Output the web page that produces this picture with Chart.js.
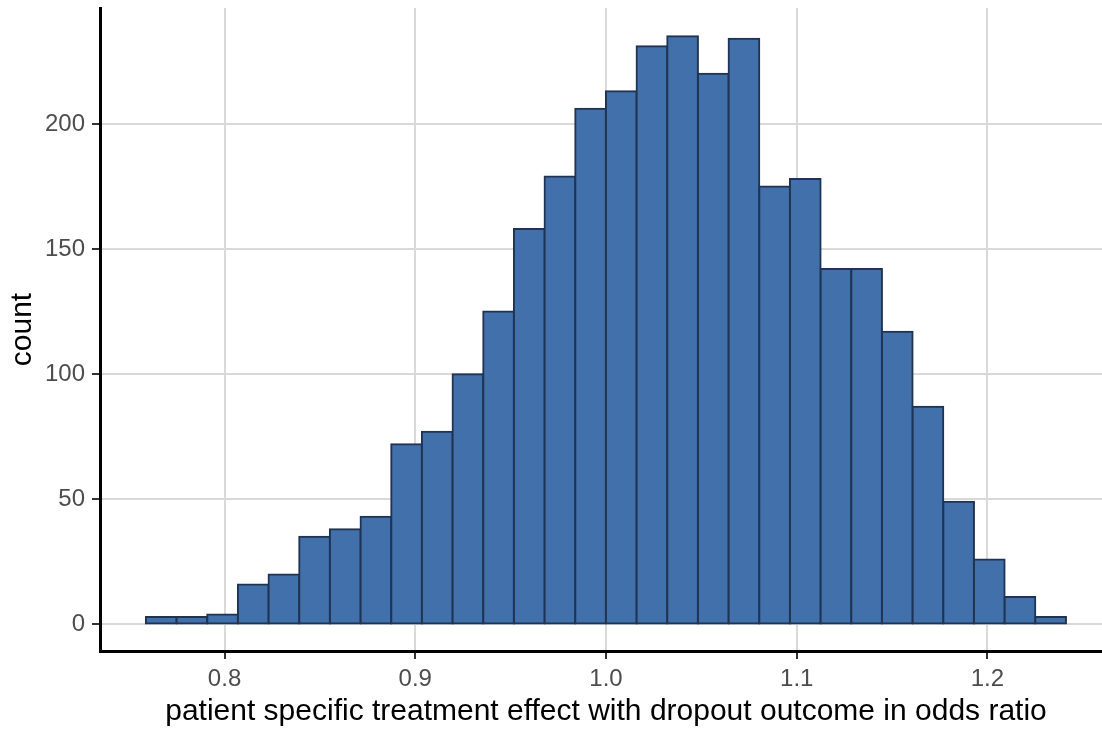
<!DOCTYPE html>
<html>
<head>
<meta charset="utf-8">
<title>Histogram</title>
<script src="https://cdn.jsdelivr.net/npm/chart.js@4/dist/chart.umd.min.js"></script>
<style>
  body { margin: 0; background: #ffffff; overflow: hidden; }
  #wrap { width: 1102px; height: 735px; overflow: hidden; }
</style>
</head>
<body>
<div id="wrap"><canvas id="hist" width="1112" height="735"></canvas></div>
<script>
// bin centres (odds ratio) and counts
const binCenters = [
  0.7668, 0.78288, 0.79896, 0.81504, 0.83112, 0.8472, 0.86328, 0.87936,
  0.89544, 0.91152, 0.9276, 0.94368, 0.95976, 0.97584, 0.99192, 1.008,
  1.02408, 1.04016, 1.05624, 1.07232, 1.0884, 1.10448, 1.12056, 1.13664,
  1.15272, 1.1688, 1.18488, 1.20096, 1.21704, 1.23312,
];
const counts = [
  3, 3, 4, 16, 20, 35, 38, 43, 72, 77, 100, 125, 158, 179, 206, 213,
  231, 235, 220, 234, 175, 178, 142, 142, 117, 87, 49, 26, 11, 3,
];
const xTicks = [0.8, 0.9, 1.0, 1.1, 1.2];
const yTicks = [0, 50, 100, 150, 200];

const xTitle = "patient specific treatment effect with dropout outcome in odds ratio";
const yTitle = "count";

const FONT = "'Liberation Sans', Arial, sans-serif";

function createHistogram() {
  const ctx = document.getElementById("hist");
  if (!window.Chart || !ctx) return;

  const points = binCenters.map((x, i) => ({ x: x, y: counts[i] }));

  new Chart(ctx, {
    type: "bar",
    data: {
      datasets: [
        {
          label: yTitle,
          data: points,
          backgroundColor: "#4270ab",
          borderColor: "#1f3352",
          borderWidth: 2,
          borderSkipped: false,
          inflateAmount: 1,
          barPercentage: 1,
          categoryPercentage: 1,
        },
      ],
    },
    options: {
      responsive: false,
      animation: false,
      // the panel runs ~10px past the right edge of the picture
      layout: { padding: { left: 0, top: 8, right: 0, bottom: 0 } },
      plugins: {
        legend: { display: false },
        tooltip: { enabled: false },
      },
      scales: {
        x: {
          type: "linear",
          min: 0.7347,
          max: 1.2653,
          offset: false,
          afterFit: (scale) => {
            scale.height = 84;
            scale.paddingLeft = 0;
            scale.paddingRight = 0;
          },
          afterBuildTicks: (scale) => {
            scale.ticks = xTicks.map((v) => ({ value: v }));
          },
          ticks: {
            color: "#4d4d4d",
            font: { family: FONT, size: 24, lineHeight: 1.2 },
            padding: 6,
            maxRotation: 0,
            autoSkip: false,
            callback: (v) => Number(v).toFixed(1),
          },
          grid: {
            offset: false,
            color: "#d9d9d9",
            lineWidth: 2,
            tickColor: "#333333",
            tickWidth: 2,
            tickLength: 8,
          },
          border: { display: true, color: "#000000", width: 3 },
          title: {
            display: true,
            text: xTitle,
            color: "#000000",
            font: { family: FONT, size: 30, lineHeight: 1.2 },
            padding: { top: 0, bottom: 5 },
          },
        },
        y: {
          min: -10.6,
          max: 246.3,
          afterFit: (scale) => {
            scale.width = 100;
            scale.paddingTop = 0;
            scale.paddingBottom = 0;
          },
          afterBuildTicks: (scale) => {
            scale.ticks = yTicks.map((v) => ({ value: v }));
          },
          ticks: {
            color: "#4d4d4d",
            font: { family: FONT, size: 24, lineHeight: 1.2 },
            padding: 7,
            autoSkip: false,
          },
          grid: {
            color: "#d9d9d9",
            lineWidth: 2,
            tickColor: "#333333",
            tickWidth: 2,
            tickLength: 8,
          },
          border: { display: true, color: "#000000", width: 3 },
          title: {
            display: true,
            text: yTitle,
            color: "#000000",
            font: { family: FONT, size: 30, lineHeight: 1.2 },
            padding: { top: 5, bottom: 0 },
          },
        },
      },
    },
  });
}

document.addEventListener("DOMContentLoaded", function () {
  createHistogram();
});
</script>
</body>
</html>
